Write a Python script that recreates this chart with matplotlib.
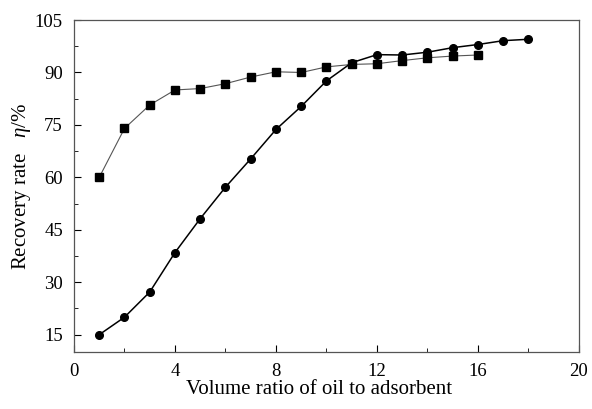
import numpy as np
import matplotlib.pyplot as plt
from matplotlib.ticker import MultipleLocator

plt.rcParams['font.family'] = ['Liberation Serif', 'DejaVu Serif']
plt.rcParams['mathtext.fontset'] = 'custom'
plt.rcParams['mathtext.it'] = 'Liberation Serif:italic'
plt.rcParams['mathtext.rm'] = 'Liberation Serif'

ratio_circle = [1, 2, 3, 4, 5, 6, 7, 8, 9, 10, 11, 12, 13, 14, 15, 16, 17, 18]
rate_circle = [15.0, 20.0, 27.2, 38.5, 48.2, 57.2, 65.3, 73.7, 80.3, 87.6,
               92.8, 95.1, 95.0, 95.8, 97.1, 98.0, 99.1, 99.5]
ratio_square = [1, 2, 3, 4, 5, 6, 7, 8, 9, 10, 11, 12, 13, 14, 15, 16]
rate_square = [60.0, 74.0, 80.7, 85.0, 85.4, 86.8, 88.7, 90.2, 90.0, 91.6,
               92.3, 92.5, 93.4, 94.2, 94.7, 95.0]

fig = plt.figure(figsize=(5.92, 4.09), dpi=100)
ax = fig.add_axes([0.125, 0.139, 0.853, 0.812])

ax.plot(ratio_square, rate_square, color='#555555', lw=0.8, marker='s',
        ms=5.5, mfc='black', mec='black')
ax.plot(ratio_circle, rate_circle, color='black', lw=1.1, marker='o',
        ms=5.5, mfc='black', mec='black')

ax.set_xlim(0, 20)
ax.set_ylim(10, 105)
ax.xaxis.set_major_locator(MultipleLocator(4))
ax.xaxis.set_minor_locator(MultipleLocator(2))
ax.yaxis.set_minor_locator(MultipleLocator(7.5))
ax.set_yticks([15, 30, 45, 60, 75, 90, 105])
ax.tick_params(which='both', direction='in', labelsize=13.5, top=False, right=False)
ax.tick_params(which='major', length=5, pad=8)
ax.tick_params(which='minor', length=3)
for s in ax.spines.values():
    s.set_color('#555555')
    s.set_linewidth(0.9)

ax.set_xlabel('Volume ratio of oil to adsorbent', fontsize=15, labelpad=1)
ax.xaxis.set_label_coords(0.485, -0.085)
ax.set_ylabel('Recovery rate   $\\eta$/%', fontsize=15, labelpad=1)

fig.savefig('out.png', dpi=100)
